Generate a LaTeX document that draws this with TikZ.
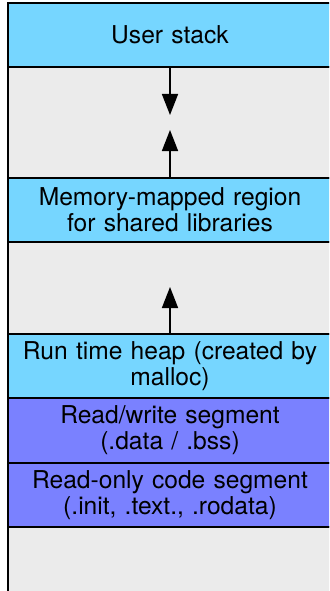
\documentclass[tikz,border=0pt]{standalone}
\usepackage{fontspec}
\setmainfont{TeX Gyre Heros}
\usetikzlibrary{positioning,arrows.meta}
\definecolor{skyblue}{HTML}{76D6FF}
\definecolor{orchid}{HTML}{7A81FF}
\definecolor{freegray}{HTML}{EBEBEB}
\tikzset{
  seg/.style={draw=black,line width=1.6pt,outer sep=0pt,inner sep=0pt,
    minimum width=324pt,text width=318pt,align=center,
    font=\fontsize{24.6}{26}\selectfont},
  growarrow/.style={line width=1.6pt,-{Triangle[length=21pt,width=16pt]}}
}
\begin{document}
\begin{tikzpicture}
    \path[use as bounding box,clip] (0pt,0pt) rectangle (329pt,-591pt);
    % segments, top to bottom
    \node[seg,fill=skyblue,minimum height=64pt,anchor=north west] (stack) at (8pt,-3pt) {User stack};
    \node[seg,fill=freegray,minimum height=111pt,below=0pt of stack] (gapa) {};
    \node[seg,fill=skyblue,minimum height=64pt,below=0pt of gapa] (mmap) {Memory-mapped region\\for shared libraries};
    \node[seg,fill=freegray,minimum height=92pt,below=0pt of mmap] (gapb) {};
    \node[seg,fill=skyblue,minimum height=64pt,below=0pt of gapb] (heap) {Run time heap (created by\\malloc)};
    \node[seg,fill=orchid,minimum height=65pt,below=0pt of heap] (rw) {Read/write segment\\(.data / .bss)};
    \node[seg,fill=orchid,minimum height=64pt,below=0pt of rw] (ro) {Read-only code segment\\(.init, .text., .rodata)};
    \node[seg,fill=freegray,minimum height=90pt,below=0pt of ro] (gapc) {};
    % growth arrows
    \coordinate[below=48pt of stack.south] (stackend);
    \coordinate[above=48pt of mmap.north] (mmapend);
    \coordinate[above=47pt of heap.north] (heapend);
    \draw[growarrow] (stack.south) -- (stackend);
    \draw[growarrow] (mmap.north) -- (mmapend);
    \draw[growarrow] (heap.north) -- (heapend);
\end{tikzpicture}
\end{document}
